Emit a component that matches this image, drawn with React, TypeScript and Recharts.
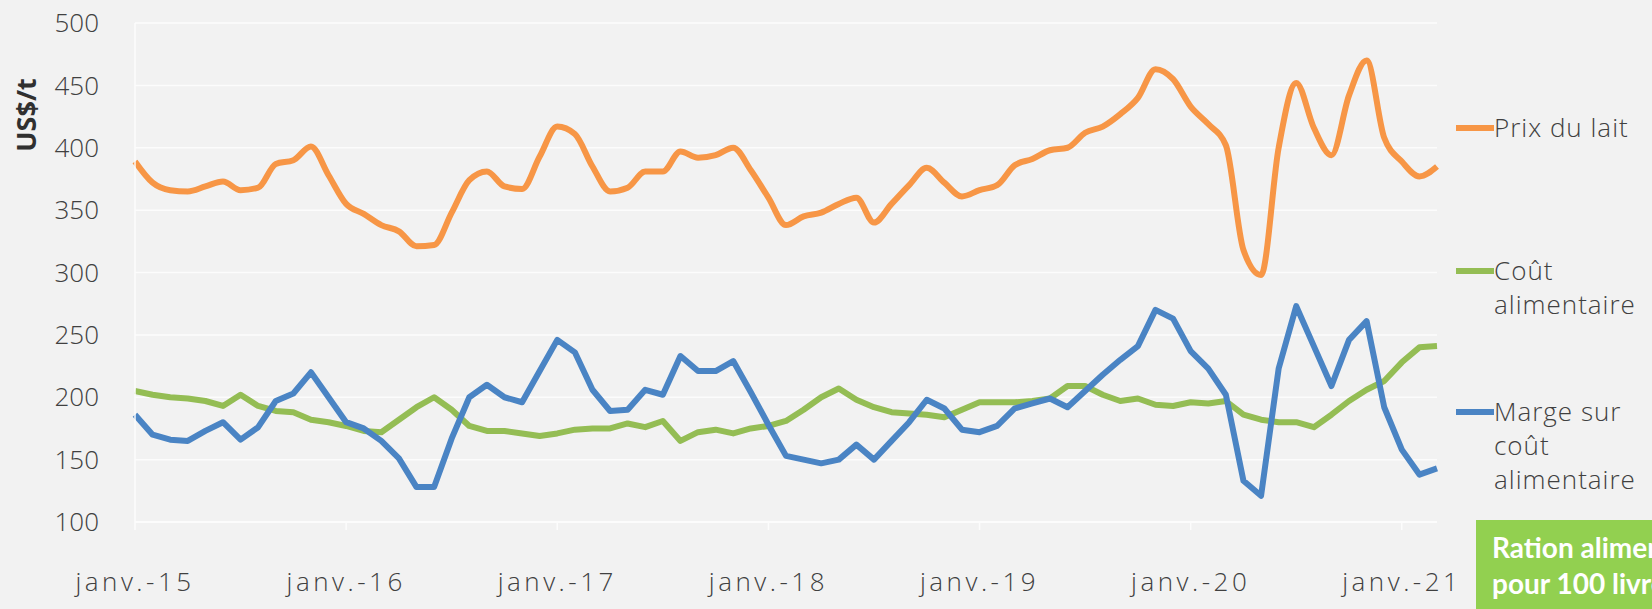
import React from "react"
import { LineChart, Line, XAxis, YAxis, CartesianGrid, Legend } from "recharts"

// mois de janv.-15 à mars-21
const monthNames = ["janv.", "févr.", "mars", "avr.", "mai", "juin", "juil.", "août", "sept.", "oct.", "nov.", "déc."]
const years = ["15", "16", "17", "18", "19", "20", "21"]
const months: string[] = []
years.forEach((y) => monthNames.forEach((m) => months.push(`${m}-${y}`)))
months.splice(75)

const yTicks = [100, 150, 200, 250, 300, 350, 400, 450, 500]

// US$/t
const prixLait = [
    389, 372, 366, 365, 369, 373, 366, 368, 387, 390,
    401, 378, 355, 347, 338, 333, 321, 322, 348, 374,
    381, 369, 367, 393, 417, 411, 385, 365, 368, 381,
    381, 397, 392, 394, 400, 382, 360, 338, 345, 348,
    355, 360, 340, 355, 370, 384, 372, 361, 366, 370,
    386, 391, 398, 400, 412, 417, 427, 440, 463, 455,
    433, 419, 402, 318, 298, 400, 452, 416, 394, 442,
    470, 408, 389, 377, 385,
]

const coutAlimentaire = [
    205, 202, 200, 199, 197, 193, 202, 193, 189, 188,
    182, 180, 177, 173, 172, 182, 192, 200, 190, 177,
    173, 173, 171, 169, 171, 174, 175, 175, 179, 176,
    181, 165, 172, 174, 171, 175, 177, 181, 190, 200,
    207, 198, 192, 188, 187, 186, 184, 190, 196, 196,
    196, 197, 199, 209, 209, 202, 197, 199, 194, 193,
    196, 195, 197, 186, 182, 180, 180, 176, 186, 197,
    206, 213, 228, 240, 241,
]

const marge = [
    186, 170, 166, 165, 173, 180, 166, 176, 197, 203,
    220, 200, 180, 175, 165, 151, 128, 128, 167, 200,
    210, 200, 196, 221, 246, 236, 206, 189, 190, 206,
    202, 233, 221, 221, 229, 204, 178, 153, 150, 147,
    150, 162, 150, 165, 180, 198, 191, 174, 172, 177,
    191, 195, 199, 192, 205, 218, 230, 241, 270, 263,
    237, 223, 202, 133, 121, 223, 273, 241, 209, 246,
    261, 192, 158, 138, 143,
]

const series = [
    { key: "lait", label: ["Prix du lait"], color: "#F79646", curve: "monotone" },
    { key: "cout", label: ["Coût", "alimentaire"], color: "#94BD54", curve: "linear" },
    { key: "marge", label: ["Marge sur", "coût", "alimentaire"], color: "#4A84C4", curve: "linear" },
]

const data = months.map((m, i) => ({
    month: m,
    lait: prixLait[i],
    cout: coutAlimentaire[i],
    marge: marge[i],
}))

const font = '"Open Sans", "DejaVu Sans", sans-serif'
const textColor = "#404040"

// positions verticales des entrées de légende
const legendTops = [110, 253, 394]

function renderLegend() {
    return (
        <div style={{ position: "relative", width: 204, height: 520 }}>
            {series.map((s, idx) => (
                <div key={s.key} style={{ position: "absolute", top: legendTops[idx], left: 0 }}>
                    <div style={{ position: "absolute", left: 8, top: 15, width: 38, height: 6, background: s.color }} />
                    <div style={{ marginLeft: 46, fontFamily: font, fontWeight: 300, fontSize: 26, lineHeight: "34px", letterSpacing: 1, color: textColor, whiteSpace: "nowrap" }}>
                        {s.label.map((l) => <div key={l}>{l}</div>)}
                    </div>
                </div>
            ))}
        </div>
    )
}

export default function App() {
    return (
        <div style={{ position: "fixed", left: 0, top: 0, width: 1652, height: 609, background: "#F2F2F2", overflow: "hidden" }}>
            {/* the legend box (204px) is taken from the right margin by recharts */}
            <LineChart width={1652} height={609} data={data} margin={{ top: 23, right: 11, left: 35, bottom: 27 }}>
                <CartesianGrid vertical={false} stroke="#FCFCFC" strokeWidth={1.5} />
                <XAxis
                    dataKey="month"
                    interval={11}
                    height={60}
                    axisLine={{ stroke: "#FCFCFC", strokeWidth: 1.5 }}
                    tickLine={{ stroke: "#FCFCFC", strokeWidth: 1.5 }}
                    tickSize={8}
                    tickMargin={43}
                    tick={{ fontSize: 26, fill: textColor, fontFamily: font, fontWeight: 300, letterSpacing: 3.5 }}
                />
                <YAxis
                    domain={[100, 500]}
                    ticks={yTicks}
                    width={100}
                    axisLine={{ stroke: "#FCFCFC", strokeWidth: 1.5 }}
                    tickLine={false}
                    tickSize={0}
                    tickMargin={36}
                    tick={{ fontSize: 26, fill: textColor, fontFamily: font, fontWeight: 300 }}
                />
                <Legend
                    layout="vertical"
                    verticalAlign="top"
                    align="right"
                    content={renderLegend}
                    wrapperStyle={{ position: "absolute", left: 1448, top: 0, width: 204 }}
                />
                {series.map((s) => (
                    <Line
                        key={s.key}
                        type={s.curve as any}
                        dataKey={s.key}
                        name={s.label.join(" ")}
                        stroke={s.color}
                        strokeWidth={6}
                        strokeLinejoin="round"
                        dot={false}
                        isAnimationActive={false}
                    />
                ))}
            </LineChart>

            <div style={{
                position: "absolute", left: -34, top: 97, width: 120, height: 36,
                transform: "rotate(-90deg)", textAlign: "center", lineHeight: "36px",
                fontFamily: font, fontWeight: 700, fontSize: 27, color: "#303030",
            }}>
                US$/t
            </div>

            <div style={{
                position: "absolute", left: 1476, top: 520, width: 176, height: 89,
                background: "#92D050", overflow: "hidden", whiteSpace: "nowrap",
                color: "#FFFFFF", fontFamily: 'Lato, "Open Sans", sans-serif', fontWeight: 700,
                fontSize: 28, lineHeight: "36px", paddingLeft: 16, paddingTop: 9, boxSizing: "border-box",
            }}>
                <div>Ration alimentaire</div>
                <div>pour 100 livres de lait</div>
            </div>
        </div>
    )
}
